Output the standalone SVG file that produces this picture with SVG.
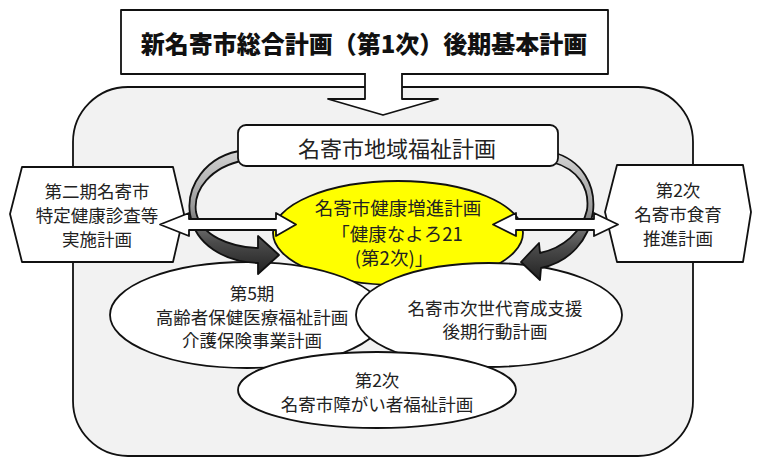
<svg xmlns="http://www.w3.org/2000/svg" width="757" height="459" viewBox="0 0 757 459">
<defs>
<style>
.ln{stroke:#111;stroke-width:1.8;stroke-linejoin:round}
.wh{fill:#fff}
.t{font-family:"Noto Sans CJK JP","Noto Sans CJK SC",sans-serif;fill:#222;text-anchor:middle;dominant-baseline:central}
.s18{font-size:18.5px}
.s17{font-size:17.5px}
</style>
<linearGradient id="band" x1="0" y1="0" x2="0" y2="1">
<stop offset="0" stop-color="#d4d4d4"/>
<stop offset="0.45" stop-color="#9a9a9a"/>
<stop offset="0.75" stop-color="#4a4a4a"/>
<stop offset="1" stop-color="#222"/>
</linearGradient>
</defs>
<rect width="757" height="459" fill="#fff"/>
<g id="frame">
<rect x="73" y="87" width="620" height="369" rx="55" ry="55" fill="#f2f2f2" class="ln" stroke-width="2"/>
</g>
<g id="master">
<rect x="121" y="10" width="487" height="64" class="wh ln" stroke-width="2"/>
<text x="364" y="42" class="t" style="font-size:24px;font-weight:900;fill:#111">新名寄市総合計画（第1次）後期基本計画</text>
</g>
<g id="connectors-main">
<path d="M365,73 L365,99 L328,99 L383,115 L438,99 L402,99 L402,73" class="wh ln" stroke-width="2"/>
</g>
<g id="tokutei">
<polygon points="22,167 173,167 184,214 173,262 22,262 10,214" class="wh ln"/>
<text x="97" y="190" class="t s17">第二期名寄市</text>
<text x="97" y="214" class="t s17">特定健康診査等</text>
<text x="97" y="238" class="t s17">実施計画</text>
</g>
<g id="shokuiku">
<polygon points="617,165 743,165 751,212 743,262 617,262 605,212" class="wh ln"/>
<text x="678" y="189" class="t s17">第2次</text>
<text x="678" y="213" class="t s17">名寄市食育</text>
<text x="678" y="237" class="t s17">推進計画</text>
</g>
<g id="kenko">
<ellipse cx="398" cy="233" rx="125" ry="52" fill="#ffff00" class="ln"/>
<text x="398" y="207" class="t s18">名寄市健康増進計画</text>
<text x="397" y="233" class="t s18">「健康なよろ21</text>
<text x="394" y="257" class="t s18">(第2次)」</text>
</g>
<g id="koreisha">
<ellipse cx="247" cy="315" rx="137" ry="53" class="wh ln"/>
<text x="252" y="292" class="t s17">第5期</text>
<text x="252" y="316" class="t s17">高齢者保健医療福祉計画</text>
<text x="252" y="339" class="t s17">介護保険事業計画</text>
</g>
<g id="jisedai">
<ellipse cx="489" cy="315" rx="133" ry="52" class="wh ln"/>
<text x="495" y="307" class="t s17">名寄市次世代育成支援</text>
<text x="495" y="330" class="t s17">後期行動計画</text>
</g>
<g id="shogai">
<ellipse cx="377" cy="390" rx="139" ry="38" class="wh ln"/>
<text x="377" y="379" class="t s17">第2次</text>
<text x="377" y="403" class="t s17">名寄市障がい者福祉計画</text>
</g>
<g id="connectors">
<path d="M245,150 C204,155 186,188 190,214 C195,245 225,262 258,263 L258,274 L279,255 L258,236 L258,248 C230,247 201,236 196,212 C193,190 210,167 245,160 Z" fill="url(#band)" class="ln" stroke-width="1.6"/>
<path d="M552,152 C583,160 596,186 593,212 C589,240 570,262 541,268 L540,280 L521,262 L539,243 L540,253 C563,248 582,232 587,210 C590,188 578,169 552,162 Z" fill="url(#band)" class="ln" stroke-width="1.6"/>
</g>
<g id="chiiki">
<rect x="238" y="125" width="320" height="41" rx="8" ry="8" class="wh ln"/>
<text x="397" y="147" class="t" style="font-size:22px">名寄市地域福祉計画</text>
</g>
<g id="connectors-links">
<polygon points="160,224.5 189,213 189,219 276,219 276,213 296,224.5 276,236 276,230 189,230 189,236" class="wh ln" stroke-width="1.5"/>
<polygon points="493,224.5 516,213 516,219 594,219 594,213 618,224.5 594,236 594,230 516,230 516,236" class="wh ln" stroke-width="1.5"/>
</g>
</svg>
